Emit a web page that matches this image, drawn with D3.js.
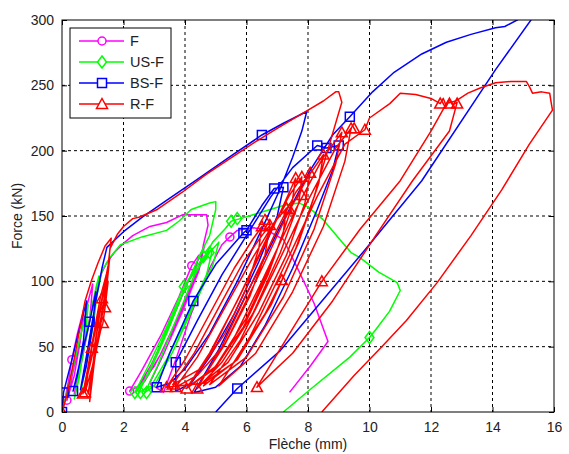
<!DOCTYPE html>
<html><head><meta charset="utf-8">
<script src="https://cdn.jsdelivr.net/npm/d3@7"></script>
<style>body{margin:0;background:#fff;} svg{display:block;} text{font-family:Arial,"Liberation Sans",sans-serif;}</style>
</head><body><svg id="c" width="569" height="454"></svg>
<script>
const xTicks = [0,2,4,6,8,10,12,14,16];
const yTicks = [0,50,100,150,200,250,300];
const seriesNames = ["F","US-F","BS-F","R-F"];
const seriesColors = ["#ff00ff","#00ff00","#0000ff","#ff0000"];
const seriesMarkers = ["circle","diamond","square","triangle"];

const dataF = [[0,0],[0.1,10],[0.2,22],[0.32,40],[0.5,60],[0.7,78],[0.6,55],[0.4,28],[0.16,9],[0.35,30],[0.6,58],[0.85,85],[1.0,98],[0.9,70],[0.65,40],[0.4,14],[0.65,42],[0.95,78],[1.2,102],[1.45,114],[1.7,122],[2.0,129],[2.3,135],[2.86,142],[3.4,145],[3.93,151],[4.48,151],[4.7,151],[4.75,143],[4.6,128],[4.5,114],[4.2,95],[3.6,62],[3.0,35],[2.5,20],[2.2,16],[2.6,32],[3.2,58],[3.8,88],[4.22,112],[4.45,120],[4.3,104],[3.8,74],[3.2,44],[2.7,24],[2.4,16],[2.9,36],[3.5,66],[4.05,97],[4.5,120],[4.62,126],[4.45,108],[3.9,76],[3.3,44],[2.85,22],[3.3,15],[3.7,40],[4.2,75],[4.8,110],[5.2,128],[5.46,134],[5.7,139],[6.2,141],[6.6,140],[7.2,132],[7.7,108],[8.2,83],[8.65,54],[8.1,36],[7.4,15]];
const dataUS = [[0,0],[0.2,18],[0.4,38],[0.6,58],[0.85,82],[0.75,55],[0.55,25],[0.4,10],[0.6,35],[0.85,65],[1.1,95],[1.2,104],[1.05,72],[0.8,38],[0.6,14],[0.85,48],[1.1,85],[1.3,108],[1.55,118],[1.9,128],[2.6,134],[3.4,139],[3.8,146],[4.2,155],[4.8,160],[5.0,161],[5.0,155],[4.8,135],[4.5,121],[4.0,95],[3.4,60],[2.8,28],[2.37,15],[2.8,35],[3.4,65],[3.96,96],[4.6,119],[4.9,125],[4.7,105],[4.1,74],[3.4,40],[2.9,20],[2.5,15],[2.9,35],[3.5,68],[4.1,100],[4.8,122],[5.1,130],[4.9,112],[4.3,82],[3.6,46],[3.0,20],[2.7,15],[3.1,35],[3.7,70],[4.3,104],[4.9,130],[5.3,140],[5.5,146],[5.8,148],[6.5,153],[7.2,158],[7.7,160],[8.0,157],[8.5,147],[9.0,133],[9.4,122],[9.7,118],[10.3,107],[10.9,99],[11.0,93],[10.65,77],[10.2,63],[10.0,57],[9.36,42],[8.06,17],[7.2,0]];
const dataBS = [[0,0],[0.05,15],[0.3,38],[0.55,62],[0.8,85],[0.7,55],[0.5,28],[0.36,16],[0.6,40],[0.9,69],[1.1,92],[1.0,66],[0.8,36],[0.6,17],[0.85,50],[1.1,85],[1.3,110],[1.46,126],[2.0,138],[2.6,149],[3.4,162],[4.4,178],[5.5,196],[6.5,212],[7.2,221],[7.96,230],[7.8,215],[7.5,195],[7.1,171],[6.5,140],[5.7,100],[4.8,60],[4.0,33],[3.5,22],[3.08,19],[3.5,45],[4.27,85],[5.0,113],[5.9,137],[6.0,139],[6.5,158],[6.9,171],[7.2,172],[7.0,150],[6.4,115],[5.6,75],[4.8,42],[4.2,22],[3.7,16],[3.7,38],[4.4,70],[5.2,105],[6.0,135],[6.8,165],[7.5,187],[8.3,204],[8.6,202],[9.0,204],[8.8,185],[8.3,155],[7.5,110],[6.6,66],[5.8,35],[5.0,19],[4.3,15],[5.1,48],[6.1,95],[7.1,142],[8.1,186],[8.8,212],[9.36,226],[10.1,245],[10.8,260],[11.7,274],[12.5,283],[13.3,289],[14.1,294],[14.4,295],[14.8,300],[15.1,304],[15.25,300],[14.1,262],[11.7,177],[9.85,124],[7.1,47],[5.7,18],[5.0,0]];
const dataR = [[0,0],[0.15,12],[0.35,35],[0.55,60],[0.75,85],[0.95,100],[1.17,114],[1.4,127],[1.6,133],[1.5,112],[1.3,85],[1.05,50],[0.8,25],[0.68,14],[0.85,35],[1.05,62],[1.25,88],[1.45,106],[1.55,118],[1.45,95],[1.25,66],[1.0,36],[0.75,15],[0.97,49],[1.15,70],[1.33,90],[1.45,102],[1.35,80],[1.15,55],[0.95,30],[0.85,14],[1.05,40],[1.25,62],[1.33,68],[1.4,80],[1.5,100],[1.3,87],[1.1,55],[0.95,25],[0.9,8],[1.05,38],[1.25,70],[1.45,98],[1.56,125],[1.8,136],[2.0,142],[2.3,148],[2.5,149],[3.1,155],[3.9,168],[4.7,182],[5.46,194],[6.3,207],[7.0,217],[8.0,231],[8.5,238],[8.9,245],[9.0,245],[9.1,237],[8.7,205],[8.2,165],[7.6,125],[7.15,101],[6.6,75],[5.6,38],[4.6,22],[3.4,19],[4.0,40],[4.8,75],[5.6,110],[6.2,132],[6.5,142],[6.4,125],[6.0,95],[5.3,60],[4.5,33],[3.6,21],[4.3,45],[5.1,80],[5.9,115],[6.5,135],[6.76,143],[6.6,120],[6.1,88],[5.3,52],[4.4,28],[3.7,19],[4.4,42],[5.3,80],[6.2,118],[6.9,145],[7.3,156],[7.2,138],[6.7,105],[5.9,65],[4.9,32],[4.05,18],[4.8,45],[5.7,85],[6.6,128],[7.2,158],[7.6,179],[7.45,155],[6.9,118],[6.0,72],[5.0,35],[4.1,19],[4.9,48],[5.8,90],[6.8,140],[7.4,166],[7.8,180],[7.7,160],[7.1,122],[6.2,75],[5.2,38],[4.4,18],[5.2,50],[6.1,95],[7.0,140],[7.6,168],[8.07,183],[7.9,160],[7.3,120],[6.4,76],[5.4,38],[4.4,19],[5.3,52],[6.3,100],[7.3,150],[8.0,180],[8.5,197],[8.35,175],[7.7,130],[6.8,82],[5.7,40],[4.6,20],[5.5,52],[6.5,100],[7.6,155],[8.5,195],[9.1,214],[8.9,190],[8.2,140],[7.2,88],[6.0,42],[4.8,21],[5.8,55],[6.9,108],[8.0,162],[8.9,202],[9.4,217],[9.2,192],[8.5,142],[7.5,92],[6.3,45],[5.1,20],[6.1,57],[7.2,110],[8.3,165],[9.2,205],[9.85,216],[10.0,225],[10.66,236],[11.0,244],[11.5,243],[12.0,240],[12.3,236],[12.4,240],[12.5,234],[12.6,239],[12.7,235],[12.85,237],[12.6,215],[11.4,177],[10.2,135],[8.8,85],[7.5,45],[6.6,25],[6.34,19],[7.4,60],[8.45,100],[9.7,140],[11.0,177],[12.0,215],[12.5,236],[12.8,238],[13.2,244],[13.6,248],[14.1,252],[14.6,253],[15.1,253],[15.2,249],[15.3,244],[15.6,245],[15.86,244],[15.9,238],[15.95,231],[15.2,205],[14.3,170],[13.3,135],[12.2,99],[11.2,70],[10.4,50],[9.5,28],[8.45,0]];

const markF = [[0.16,9],[0.32,40],[2.2,16],[4.22,112],[5.46,134]];
const markUS = [[2.37,15],[2.55,15],[2.75,15],[3.96,96],[4.6,119],[4.8,122],[5.5,146],[5.7,148],[10.0,57]];
const markBS = [[0,0],[0.05,15],[0.36,16],[0.9,69],[3.08,19],[3.7,38],[4.27,85],[5.9,137],[6.0,139],[6.5,212],[6.9,171],[7.2,172],[8.3,204],[8.6,202],[9.0,204],[9.36,226],[5.7,18]];
const markR = [[0,0],[0.68,14],[0.75,15],[0.97,49],[1.33,68],[1.4,80],[1.3,87],[3.4,19],[3.6,21],[3.7,19],[4.05,18],[4.4,18],[6.5,142],[6.6,147],[6.76,143],[7.3,156],[7.4,155],[7.6,179],[7.8,166],[7.8,180],[8.07,183],[8.5,197],[9.1,214],[9.4,217],[9.5,217],[9.85,216],[12.3,236],[12.6,236],[12.85,236],[7.15,101],[8.45,100],[6.34,19]];

const allData = [dataF, dataUS, dataBS, dataR];
const allMarks = [markF, markUS, markBS, markR];

const svg = d3.select("#c");
const L=62, R=554, T=20, B=412;
const x = d3.scaleLinear().domain([0,16]).range([L,R]);
const y = d3.scaleLinear().domain([0,300]).range([B,T]);

svg.append("rect").attr("x",0).attr("y",0).attr("width",569).attr("height",454).attr("fill","#fff");
svg.append("defs").append("clipPath").attr("id","clip").append("rect").attr("x",L).attr("y",T).attr("width",R-L).attr("height",B-T);

// grid
const g = svg.append("g");
g.selectAll(".gx").data(xTicks.slice(1,-1)).enter().append("line")
 .attr("x1",d=>x(d)).attr("x2",d=>x(d)).attr("y1",T).attr("y2",B)
 .attr("stroke","#000").attr("stroke-width",1).attr("stroke-dasharray","3,3");
g.selectAll(".gy").data(yTicks.slice(1,-1)).enter().append("line")
 .attr("y1",d=>y(d)).attr("y2",d=>y(d)).attr("x1",L).attr("x2",R)
 .attr("stroke","#000").attr("stroke-width",1).attr("stroke-dasharray","3,3");

function markerPath(type, cx, cy){
  if(type==="circle"){ const r=4; return `M${cx-r},${cy}a${r},${r} 0 1,0 ${2*r},0a${r},${r} 0 1,0 ${-2*r},0Z`; }
  if(type==="diamond"){ const w=4.5,h=6; return `M${cx},${cy-h}L${cx+w},${cy}L${cx},${cy+h}L${cx-w},${cy}Z`; }
  if(type==="square"){ const s=4.5; return `M${cx-s},${cy-s}H${cx+s}V${cy+s}H${cx-s}Z`; }
  const s=5.5; return `M${cx},${cy-s}L${cx+s},${cy+s*0.8}L${cx-s},${cy+s*0.8}Z`;
}

const plot = svg.append("g").attr("clip-path","url(#clip)");
const line = d3.line().x(d=>x(d[0])).y(d=>y(d[1]));
allData.forEach((data,i)=>{
  plot.append("path").attr("d",line(data)).attr("fill","none")
   .attr("stroke",seriesColors[i]).attr("stroke-width",1.5).attr("stroke-linejoin","round");
  plot.selectAll(null).data(allMarks[i]).enter().append("path")
   .attr("d",d=>markerPath(seriesMarkers[i],x(d[0]),y(d[1])))
   .attr("fill","none").attr("stroke",seriesColors[i]).attr("stroke-width",1.5);
});

// axes box
svg.append("rect").attr("x",L).attr("y",T).attr("width",R-L).attr("height",B-T).attr("fill","none").attr("stroke","#000").attr("stroke-width",1);
const xAxB = d3.axisBottom(x).tickValues(xTicks).tickSize(-5).tickPadding(10).tickFormat(d3.format("d"));
const xAxT = d3.axisTop(x).tickValues(xTicks).tickSize(-5).tickFormat("");
const yAxL = d3.axisLeft(y).tickValues(yTicks).tickSize(-5).tickPadding(8).tickFormat(d3.format("d"));
const yAxR = d3.axisRight(y).tickValues(yTicks).tickSize(-5).tickFormat("");
function styleAx(sel){ sel.select(".domain").remove(); sel.selectAll("text").attr("font-size",14).attr("fill","#222").attr("font-family","Arial, 'Liberation Sans', sans-serif"); sel.selectAll("line").attr("stroke","#000"); }
svg.append("g").attr("transform",`translate(0,${B})`).call(xAxB).call(styleAx);
svg.append("g").attr("transform",`translate(0,${T})`).call(xAxT).call(styleAx);
svg.append("g").attr("transform",`translate(${L},0)`).call(yAxL).call(styleAx);
svg.append("g").attr("transform",`translate(${R},0)`).call(yAxR).call(styleAx);

svg.append("text").attr("x",(L+R)/2).attr("y",449).attr("text-anchor","middle").attr("font-size",14).attr("fill","#222").text("Flèche (mm)");
svg.append("text").attr("transform",`translate(22,${(T+B)/2}) rotate(-90)`).attr("text-anchor","middle").attr("font-size",14).attr("fill","#222").text("Force (kN)");

// legend
const lg = svg.append("g");
lg.append("rect").attr("x",70).attr("y",28).attr("width",101).attr("height",90).attr("fill","#fff").attr("stroke","#000").attr("stroke-width",1);
seriesNames.forEach((n,i)=>{
  const yy = 41 + i*21;
  lg.append("line").attr("x1",79).attr("x2",124).attr("y1",yy).attr("y2",yy).attr("stroke",seriesColors[i]).attr("stroke-width",1.5);
  lg.append("path").attr("d",markerPath(seriesMarkers[i],102,yy)).attr("fill","#fff").attr("stroke",seriesColors[i]).attr("stroke-width",1.5);
  lg.append("text").attr("x",130).attr("y",yy+5).attr("font-size",14.5).attr("fill","#222").text(n);
});
</script></body></html>
